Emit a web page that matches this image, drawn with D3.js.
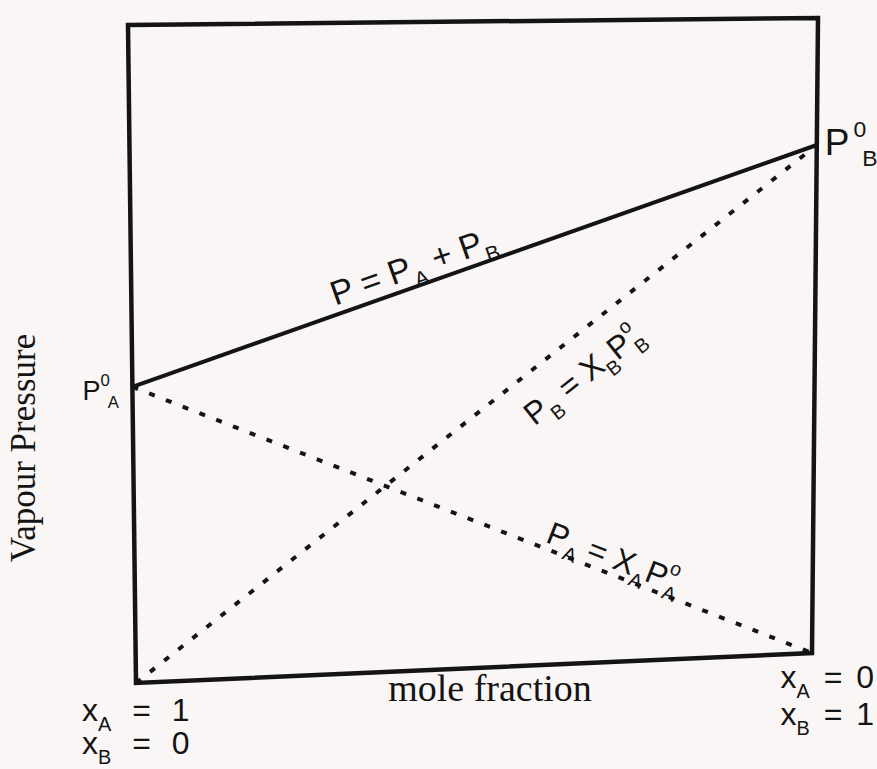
<!DOCTYPE html>
<html>
<head>
<meta charset="utf-8">
<script src="https://cdn.jsdelivr.net/npm/d3@7"></script>
<style>
  html, body { margin: 0; padding: 0; background: #f9f6f5; }
  svg { display: block; }
</style>
</head>
<body>
<svg id="chart" width="877" height="769"></svg>
<script>
// mole fraction of B along the axis (left = pure A, right = pure B)
var moleFractionB = [0, 1];
// vapour pressure, arbitrary units (0 at the bottom of the frame, 100 at the top)
var totalP = [45, 80];     // P = PA + PB
var partialPA = [45, 0];   // PA = xA P°A
var partialPB = [0, 80];   // PB = xB P°B

var leftTicks = [["x", "A", " = 1"], ["x", "B", " = 0"]];
var rightTicks = [["x", "A", " = 0"], ["x", "B", " = 1"]];

var svg = d3.select("#chart");
var ink = "#141414";

// the sheet was photographed at a slight angle, so the frame is not square
var TL = [128, 25], TR = [818, 18], BL = [136, 683], BR = [812, 653];

function proj(u, v) {
  var top = [TL[0] + (TR[0] - TL[0]) * u, TL[1] + (TR[1] - TL[1]) * u];
  var bot = [BL[0] + (BR[0] - BL[0]) * u, BL[1] + (BR[1] - BL[1]) * u];
  return [top[0] + (bot[0] - top[0]) * v, top[1] + (bot[1] - top[1]) * v];
}

var x = d3.scaleLinear().domain([0, 1]).range([0, 1]);
var y = d3.scaleLinear().domain([0, 100]).range([1, 0]);
function pt(xb, p) { return proj(x(xb), y(p)); }

var line = d3.line();

// frame
svg.append("path")
    .attr("d", d3.line().curve(d3.curveLinearClosed)([[0, 0], [1, 0], [1, 1], [0, 1]].map(function(c) { return proj(c[0], c[1]); })))
    .attr("fill", "none")
    .attr("stroke", ink)
    .attr("stroke-width", 4.5)
    .attr("stroke-linejoin", "miter");

function series(vals) {
  return moleFractionB.map(function(xb, i) { return pt(xb, vals[i]); });
}

svg.append("path")
    .attr("d", line(series(totalP)))
    .attr("fill", "none")
    .attr("stroke", ink)
    .attr("stroke-width", 4);

[partialPA, partialPB].forEach(function(vals) {
  svg.append("path")
      .attr("d", line(series(vals)))
      .attr("fill", "none")
      .attr("stroke", ink)
      .attr("stroke-width", 4)
      .attr("stroke-dasharray", "6,12");
});

// text with sub / superscripts: pieces are [text, kind, dx]
function rich(sel, pieces, size) {
  var shift = 0;
  pieces.forEach(function(p) {
    var target = p[1] === "sub" ? 0.3 * size : p[1] === "sup" ? -0.5 * size : 0;
    sel.append("tspan")
        .attr("font-size", p[1] ? 0.62 * size : size)
        .attr("dy", target - shift)
        .attr("dx", p[2] || 0)
        .text(p[0]);
    shift = target;
  });
}

function labelAlong(vals, t, offset, pieces, size) {
  var s = series(vals);
  var dx = s[1][0] - s[0][0], dy = s[1][1] - s[0][1];
  var len = Math.sqrt(dx * dx + dy * dy);
  var nx = dy / len, ny = -dx / len;
  var px = s[0][0] + dx * t + nx * offset;
  var py = s[0][1] + dy * t + ny * offset;
  var ang = Math.atan2(dy, dx) * 180 / Math.PI;
  var txt = svg.append("text")
      .attr("transform", "translate(" + px + "," + py + ") rotate(" + ang + ")")
      .attr("text-anchor", "middle")
      .attr("font-family", "Liberation Sans, Arial, sans-serif")
      .attr("fill", ink);
  rich(txt, pieces, size);
}

labelAlong(totalP, 0.42, 9, [["P = P"], ["A", "sub"], [" + P"], ["B", "sub"]], 34);
labelAlong(partialPB, 0.625, -46, [["P"], ["B", "sub"], [" = X"], ["B", "sub"], ["P"], ["o", "sup"], ["B", "sub", -10]], 32);
labelAlong(partialPA, 0.70, 6, [["P"], ["A", "sub"], [" = X"], ["A", "sub"], ["P"], ["o", "sup"], ["A", "sub", -10]], 32);

// pure component vapour pressures
var pA = pt(0, partialPA[0]);
var tA = svg.append("text").attr("x", pA[0] - 50).attr("y", pA[1] + 13)
    .attr("font-family", "Liberation Sans, Arial, sans-serif").attr("fill", ink);
rich(tA, [["P"], ["0", "sup"], ["A", "sub", -2]], 27);

var pB = pt(1, partialPB[1]);
var tB = svg.append("text").attr("x", pB[0] + 8).attr("y", pB[1] + 10)
    .attr("font-family", "Liberation Sans, Arial, sans-serif").attr("fill", ink);
rich(tB, [["P"], ["0", "sup", 4], ["B", "sub", -4]], 37);

// axis titles
svg.append("text")
    .attr("transform", "translate(35,448) rotate(-90)")
    .attr("text-anchor", "middle")
    .attr("font-family", "Liberation Serif, Times New Roman, serif")
    .attr("font-size", 35)
    .attr("fill", ink)
    .text("Vapour Pressure");

svg.append("text")
    .attr("x", 490).attr("y", 701)
    .attr("text-anchor", "middle")
    .attr("font-family", "Liberation Serif, Times New Roman, serif")
    .attr("font-size", 38)
    .attr("fill", ink)
    .text("mole fraction");

// end labels of the mole fraction axis
function endLabel(tick, xx, yy, anchor, gap) {
  var t = svg.append("text").attr("x", xx).attr("y", yy)
      .attr("text-anchor", anchor)
      .attr("font-family", "Liberation Sans, Arial, sans-serif")
      .attr("fill", ink)
      .attr("word-spacing", gap);
  rich(t, [[tick[0]], [tick[1], "sub"], [tick[2]]], 32);
}
leftTicks.forEach(function(tk, i) { endLabel(tk, 82, 721 + i * 33, "start", 12); });
rightTicks.forEach(function(tk, i) { endLabel(tk, 874, 688 + i * 37, "end", 5); });
</script>
</body>
</html>
